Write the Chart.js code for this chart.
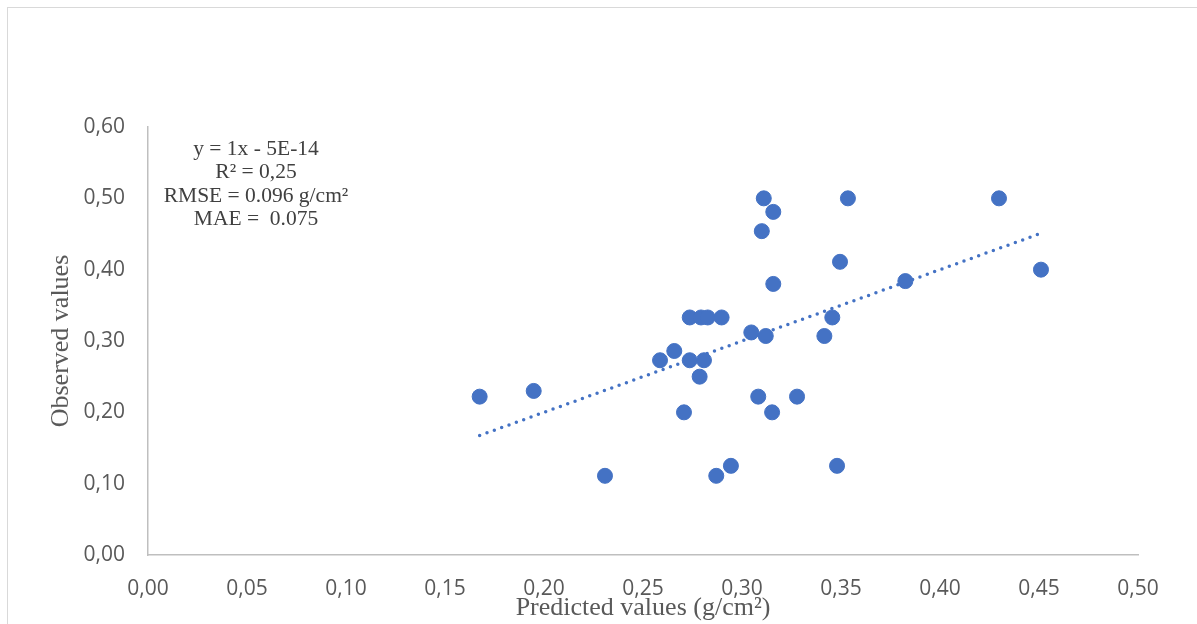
<!DOCTYPE html>
<html>
<head>
<meta charset="utf-8">
<script src="https://cdn.jsdelivr.net/npm/chart.js@4.4.1/dist/chart.umd.min.js"></script>
<style>
  html, body { margin: 0; padding: 0; background: #ffffff; }
  #wrap { position: relative; width: 1197px; height: 624px; }
</style>
</head>
<body>
<div id="wrap"><canvas id="chart" width="1197" height="624"></canvas></div>
<script>
// Predicted vs observed density (g/cm²)
const predicted = [
  0.1675, 0.1948, 0.2308, 0.3110, 0.3158, 0.3100, 0.3158,
  0.2736, 0.2793, 0.2827, 0.2897, 0.3047, 0.3120, 0.2658,
  0.2586, 0.2736, 0.2808, 0.2786, 0.3082, 0.3278, 0.2707,
  0.3152, 0.2944, 0.2870, 0.3535, 0.4298, 0.3495, 0.3825,
  0.4510, 0.3456, 0.3416, 0.3480
];
const observed = [
  0.222, 0.230, 0.111, 0.500, 0.481, 0.454, 0.380,
  0.333, 0.333, 0.333, 0.333, 0.312, 0.307, 0.286,
  0.273, 0.273, 0.273, 0.250, 0.222, 0.222, 0.200,
  0.200, 0.125, 0.111, 0.500, 0.500, 0.411, 0.384,
  0.400, 0.333, 0.307, 0.125
];

// Linear trend line as reported: y = 1x - 5E-14
const trendSlope = 1;
const trendIntercept = -5e-14;

const xTicks = ['0,00', '0,05', '0,10', '0,15', '0,20', '0,25', '0,30', '0,35', '0,40', '0,45', '0,50'];
const yTicks = ['0,00', '0,10', '0,20', '0,30', '0,40', '0,50', '0,60'];

const statsLines = ['y = 1x - 5E-14', 'R² = 0,25', 'RMSE = 0.096 g/cm²', 'MAE =  0.075'];

const points = predicted.map((x, i) => ({ x: x, y: observed[i] }));
const xMin = Math.min(...predicted);
const xMax = Math.max(...predicted);
const trend = [
  { x: xMin, y: trendSlope * xMin + trendIntercept },
  { x: xMax, y: trendSlope * xMax + trendIntercept }
];

const blue = '#4472C4';
const tickFont = { family: 'Open Sans', size: 21 };
const titleFont = { family: 'Liberation Serif', size: 26 };

// Light frame around the whole chart
const framePlugin = {
  id: 'frame',
  beforeDraw(chart) {
    const ctx = chart.ctx;
    ctx.save();
    ctx.fillStyle = '#ffffff';
    ctx.fillRect(0, 0, chart.width, chart.height);
    ctx.strokeStyle = '#d9d9d9';
    ctx.lineWidth = 1;
    ctx.strokeRect(7.5, 7.5, 1400, 900);
    ctx.restore();
  }
};

// Fit statistics text block
const statsPlugin = {
  id: 'stats',
  afterDatasetsDraw(chart) {
    const ctx = chart.ctx;
    ctx.save();
    ctx.fillStyle = '#404040';
    ctx.font = '21.5px "Liberation Serif"';
    ctx.textAlign = 'center';
    ctx.textBaseline = 'middle';
    statsLines.forEach((t, i) => ctx.fillText(t, 256, 149 + i * 23.5));
    ctx.restore();
  }
};

new Chart(document.getElementById('chart'), {
  type: 'scatter',
  data: {
    datasets: [
      {
        label: 'Observed',
        data: points,
        backgroundColor: blue,
        borderColor: blue,
        borderWidth: 1,
        pointRadius: 7.5,
        pointHoverRadius: 7.5,
        order: 1
      },
      {
        label: 'Trend',
        type: 'line',
        data: trend,
        borderColor: blue,
        borderWidth: 3.5,
        borderDash: [0, 7.8],
        borderCapStyle: 'round',
        pointRadius: 0,
        fill: false,
        order: 2
      }
    ]
  },
  options: {
    responsive: false,
    animation: false,
    events: [],
    layout: { padding: { top: 127, right: 59, bottom: 0, left: 0 } },
    plugins: {
      legend: { display: false },
      tooltip: { enabled: false }
    },
    scales: {
      x: {
        type: 'linear',
        min: 0,
        max: 0.5,
        afterFit(scale) { scale.height = 69; },
        afterBuildTicks(scale) {
          scale.ticks = xTicks.map((_, i) => ({ value: i * 0.05 }));
        },
        ticks: {
          font: tickFont,
          color: '#595959',
          padding: 21,
          maxRotation: 0,
          autoSkip: false,
          callback: (v, i) => xTicks[i]
        },
        grid: { display: false, drawTicks: false },
        border: { display: true, color: '#bfbfbf', width: 1.5 },
        title: {
          display: true,
          text: 'Predicted values (g/cm²)',
          font: titleFont,
          color: '#595959',
          padding: { top: 0, bottom: 0 }
        }
      },
      y: {
        type: 'linear',
        min: 0,
        max: 0.6,
        afterFit(scale) { scale.width = 148; },
        afterBuildTicks(scale) {
          scale.ticks = yTicks.map((_, i) => ({ value: i * 0.1 }));
        },
        ticks: {
          font: tickFont,
          color: '#595959',
          padding: 23,
          autoSkip: false,
          callback: (v, i) => yTicks[i]
        },
        grid: { display: false, drawTicks: false },
        border: { display: true, color: '#bfbfbf', width: 1.5 },
        title: {
          display: true,
          text: 'Observed values',
          font: titleFont,
          color: '#595959',
          padding: { top: 46, bottom: 0 }
        }
      }
    }
  },
  plugins: [framePlugin, statsPlugin]
});
</script>
</body>
</html>
